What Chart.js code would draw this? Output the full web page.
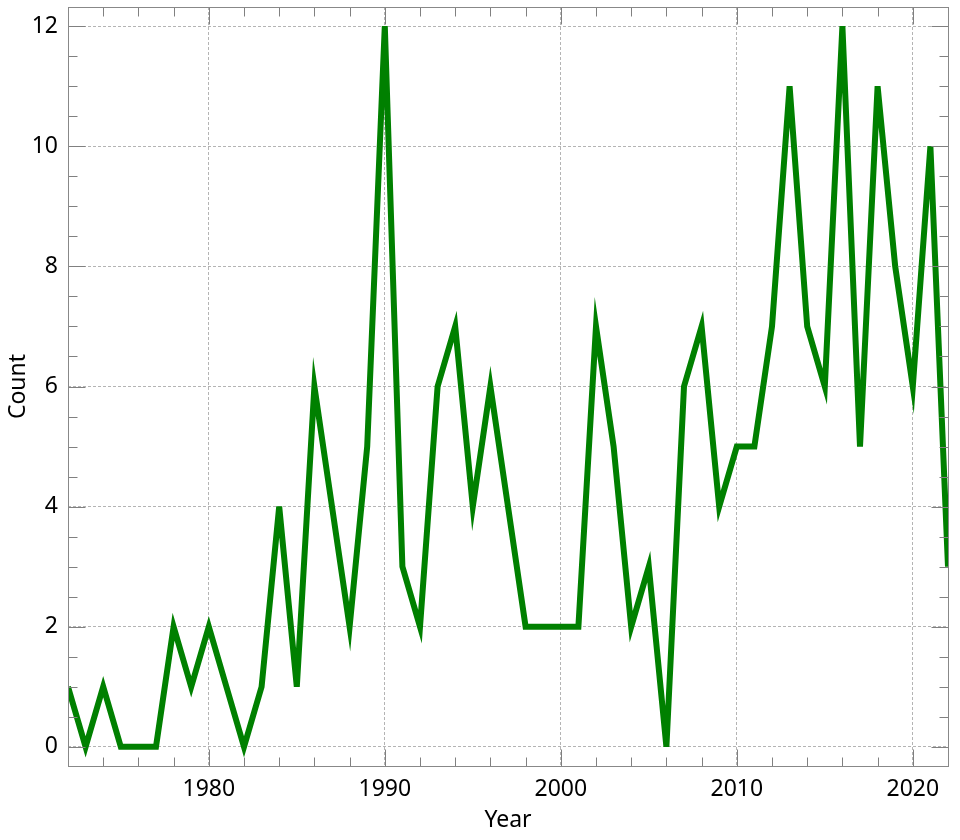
<!DOCTYPE html>
<html>
<head>
<meta charset="utf-8">
<script src="https://cdn.jsdelivr.net/npm/chart.js@4.4.0/dist/chart.umd.min.js"></script>
<style>
html,body{margin:0;padding:0;background:#fff;}
#wrap{width:960px;height:840px;}
</style>
</head>
<body>
<div id="wrap"><canvas id="c" width="960" height="840"></canvas></div>
<script>
const years = [1972,1973,1974,1975,1976,1977,1978,1979,1980,1981,1982,1983,1984,1985,1986,1987,1988,1989,1990,1991,1992,1993,1994,1995,1996,1997,1998,1999,2000,2001,2002,2003,2004,2005,2006,2007,2008,2009,2010,2011,2012,2013,2014,2015,2016,2017,2018,2019,2020,2021,2022];
const counts = [1,0,1,0,0,0,2,1,2,1,0,1,4,1,6,4,2,5,12,3,2,6,7,4,6,4,2,2,2,2,7,5,2,3,0,6,7,4,5,5,7,11,7,6,12,5,11,8,6,10,3];
const xMajorTicks = [1980,1990,2000,2010,2020];
const xMinorTicks = [1974,1976,1978,1982,1984,1986,1988,1992,1994,1996,1998,2002,2004,2006,2008,2012,2014,2016,2018,2022];
const yMajorTicks = [0,2,4,6,8,10,12];
const yMinorTicks = [0.5,1,1.5,2.5,3,3.5,4.5,5,5.5,6.5,7,7.5,8.5,9,9.5,10.5,11,11.5];

const FONT = "'Noto Sans', 'Open Sans', sans-serif";

const frameTicks = {
  id: 'frameTicks',
  afterDraw(chart) {
    const ctx = chart.ctx, a = chart.chartArea;
    const xs = chart.scales.x, ys = chart.scales.y;
    ctx.save();
    ctx.strokeStyle = '#808080';
    ctx.lineWidth = 1;
    const L = Math.round(a.left)+0.5, R = Math.round(a.right)+0.5, T = Math.round(a.top)+0.5, B = Math.round(a.bottom)+0.5;
    ctx.beginPath();
    const tick = (v, len, isX) => {
      if (isX) {
        const p = Math.round(xs.getPixelForValue(v))+0.5;
        ctx.moveTo(p, B); ctx.lineTo(p, B-len);
        ctx.moveTo(p, T); ctx.lineTo(p, T+len);
      } else {
        const p = Math.round(ys.getPixelForValue(v))+0.5;
        ctx.moveTo(L, p); ctx.lineTo(L+len, p);
        ctx.moveTo(R, p); ctx.lineTo(R-len, p);
      }
    };
    xMajorTicks.forEach(v => tick(v, 17, true));
    xMinorTicks.forEach(v => tick(v, 9, true));
    yMajorTicks.forEach(v => tick(v, 17, false));
    yMinorTicks.forEach(v => tick(v, 9, false));
    ctx.stroke();
    ctx.strokeStyle = '#888888';
    ctx.strokeRect(L, T, R-L, B-T);
    ctx.restore();
  }
};

new Chart(document.getElementById('c'), {
  type: 'line',
  data: {
    datasets: [{
      data: years.map((y,i) => ({x: y, y: counts[i]})),
      borderColor: '#008000',
      borderWidth: 6,
      pointRadius: 0,
      tension: 0,
      fill: false,
      borderJoinStyle: 'miter',
      borderCapStyle: 'butt'
    }]
  },
  options: {
    responsive: false,
    animation: false,
    devicePixelRatio: 1,
    layout: { padding: { top: 7, right: 12, left: 0, bottom: 0 } },
    plugins: { legend: { display: false }, tooltip: { enabled: false } },
    scales: {
      x: {
        type: 'linear',
        min: 1972, max: 2022,
        afterBuildTicks: s => { s.ticks = xMajorTicks.map(v => ({value: v})); },
        afterFit: s => { s.height = 74; s.paddingLeft = 0; s.paddingRight = 0; },
        grid: { color: '#b4b4b4', lineWidth: 1, drawTicks: false },
        border: { display: false, dash: [3, 2] },
        ticks: { font: { family: FONT, size: 23 }, color: '#000', padding: 10, maxRotation: 0,
                 callback: v => String(v) },
        title: { display: true, text: 'Year', font: { family: FONT, size: 23 }, color: '#000', padding: { top: 0, bottom: 6 } }
      },
      y: {
        type: 'linear',
        min: -0.32, max: 12.32,
        afterBuildTicks: s => { s.ticks = yMajorTicks.map(v => ({value: v})); },
        afterFit: s => { s.width = 68; s.paddingTop = 0; s.paddingBottom = 0; },
        grid: { color: '#b4b4b4', lineWidth: 1, drawTicks: false },
        border: { display: false, dash: [3, 2] },
        ticks: { font: { family: FONT, size: 23 }, color: '#000', padding: 10,
                 callback: v => String(v) },
        title: { display: true, text: 'Count', font: { family: FONT, size: 23 }, color: '#000', padding: { top: 5, bottom: 0 } }
      }
    }
  },
  plugins: [frameTicks]
});
</script>
</body>
</html>
